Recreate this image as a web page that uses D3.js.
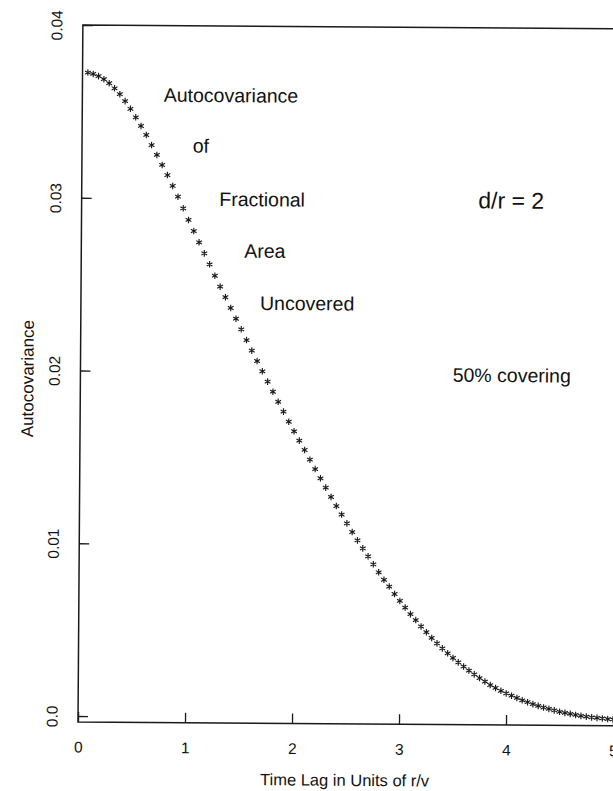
<!DOCTYPE html>
<html>
<head>
<meta charset="utf-8">
<script src="https://cdn.jsdelivr.net/npm/d3@7.9.0/dist/d3.min.js"></script>
<style>
  body { margin: 0; background: #fff; }
  svg text { font-family: "Liberation Sans", Arial, Helvetica, sans-serif; fill: #111; }
</style>
</head>
<body>
<script>
// ─── DATA ─────────────────────────────────────────────────────────────────────
const lags = [
  0.05,0.10,0.15,0.20,0.25,0.30,0.35,0.40,0.45,0.50,
  0.55,0.60,0.65,0.70,0.75,0.80,0.85,0.90,0.95,1.00,
  1.05,1.10,1.15,1.20,1.25,1.30,1.35,1.40,1.45,1.50,
  1.55,1.60,1.65,1.70,1.75,1.80,1.85,1.90,1.95,2.00,
  2.05,2.10,2.15,2.20,2.25,2.30,2.35,2.40,2.45,2.50,
  2.55,2.60,2.65,2.70,2.75,2.80,2.85,2.90,2.95,3.00,
  3.05,3.10,3.15,3.20,3.25,3.30,3.35,3.40,3.45,3.50,
  3.55,3.60,3.65,3.70,3.75,3.80,3.85,3.90,3.95,4.00,
  4.05,4.10,4.15,4.20,4.25,4.30,4.35,4.40,4.45,4.50,
  4.55,4.60,4.65,4.70,4.75,4.80,4.85,4.90,4.95,5.00
];
const autocov = [
  0.03725,0.03717,0.03705,0.03687,0.03664,0.03635,0.03601,0.03561,0.03517,0.03468,
  0.03418,0.03366,0.03308,0.03251,0.03193,0.03135,0.03072,0.03010,0.02943,0.02876,
  0.02812,0.02747,0.02683,0.02620,0.02554,0.02491,0.02430,0.02368,0.02306,0.02245,
  0.02183,0.02122,0.02062,0.02003,0.01943,0.01885,0.01827,0.01770,0.01712,0.01657,
  0.01603,0.01549,0.01493,0.01439,0.01386,0.01332,0.01278,0.01226,0.01177,0.01126,
  0.01076,0.01028,0.00982,0.00936,0.00890,0.00844,0.00801,0.00762,0.00719,0.00679,
  0.00641,0.00603,0.00569,0.00532,0.00499,0.00466,0.00435,0.00406,0.00378,0.00351,
  0.00326,0.00302,0.00279,0.00257,0.00236,0.00216,0.00196,0.00179,0.00163,0.00148,
  0.00135,0.00122,0.00109,0.00098,0.00087,0.00077,0.00068,0.00060,0.00052,0.00044,
  0.00038,0.00032,0.00026,0.00021,0.00017,0.00013,0.00010,0.00007,0.00004,0.00002
];
const xTicks = [0, 1, 2, 3, 4, 5];
const yTicks = [0, 0.01, 0.02, 0.03, 0.04];
const yTickLabels = ['0.0', '0.01', '0.02', '0.03', '0.04'];
const xTitle = 'Time Lag in Units of r/v';
const yTitle = 'Autocovariance';
const notes = ['Autocovariance', 'of', 'Fractional', 'Area', 'Uncovered', '50% covering'];
const ratioNote = 'd/r = 2';

// ─── LAYOUT ───────────────────────────────────────────────────────────────────
const W = 613, H = 791;
const LEFT = 78, TOP = 25, BOTTOM = 722, RIGHT = 650;

const svg = d3.select('body').append('svg')
  .attr('width', W).attr('height', H);

// the scanned page is tilted slightly
const g = svg.append('g')
  .attr('transform', `rotate(0.4, ${LEFT}, ${BOTTOM})`);

const x = d3.scaleLinear().domain([0, 5]).range([LEFT, 613]);
const y = d3.scaleLinear().domain([0, 0.04]).range([716, TOP]);

// frame (top and left/bottom edges; right edge is off the page)
g.append('path')
  .attr('d', `M${RIGHT},${TOP}H${LEFT}V${BOTTOM}H${RIGHT}`)
  .attr('fill', 'none')
  .attr('stroke', '#1a1a1a')
  .attr('stroke-width', 1.5);

// x axis, ticks pointing inward
const xAxis = g.append('g')
  .attr('transform', `translate(0,${BOTTOM})`)
  .call(d3.axisBottom(x).tickValues(xTicks).tickSize(-10).tickFormat(d3.format('d')));
xAxis.select('.domain').remove();
xAxis.selectAll('line').attr('stroke', '#1a1a1a').attr('stroke-width', 1.3);
xAxis.selectAll('text')
  .attr('y', 30.5).attr('dy', null)
  .style('font-size', '15.5px');

// y axis, ticks pointing inward, labels rotated
const yAxis = g.append('g')
  .attr('transform', `translate(${LEFT},0)`)
  .call(d3.axisLeft(y).tickValues(yTicks).tickSize(-10)
    .tickFormat((d, i) => yTickLabels[i]));
yAxis.select('.domain').remove();
yAxis.selectAll('line').attr('stroke', '#1a1a1a').attr('stroke-width', 1.3);
yAxis.selectAll('text')
  .attr('x', 0).attr('y', 0).attr('dy', null)
  .attr('text-anchor', 'middle')
  .attr('transform', 'translate(-20.5,0) rotate(-90)')
  .style('font-size', '15.5px');

// axis titles
g.append('text')
  .attr('x', 345).attr('y', 784)
  .attr('text-anchor', 'middle')
  .style('font-size', '16.5px')
  .text(xTitle);

g.append('text')
  .attr('transform', 'translate(31,379) rotate(-90)')
  .attr('text-anchor', 'middle')
  .style('font-size', '17px')
  .text(yTitle);

// asterisk markers
const star = d3.symbol(d3.symbolAsterisk).size(30);
g.append('g')
  .selectAll('path')
  .data(lags.map((l, i) => ({ lag: l, v: autocov[i] })))
  .join('path')
    .attr('transform', d => `translate(${x(d.lag)},${y(d.v)})`)
    .attr('d', star)
    .attr('fill', 'none')
    .attr('stroke', '#1a1a1a')
    .attr('stroke-width', 1.15);

// annotations (positions in data units)
const notePos = [[0.761, 0.03559], [1.035, 0.03266], [1.287, 0.02958],
                 [1.523, 0.02660], [1.674, 0.02358], [3.479, 0.01950]];
g.append('g')
  .selectAll('text')
  .data(notes)
  .join('text')
    .attr('x', (d, i) => x(notePos[i][0]))
    .attr('y', (d, i) => y(notePos[i][1]))
    .style('font-size', '19.5px')
    .text(d => d);

g.append('text')
  .attr('x', x(3.707)).attr('y', y(0.02955))
  .style('font-size', '23px')
  .text(ratioNote);
</script>
</body>
</html>
